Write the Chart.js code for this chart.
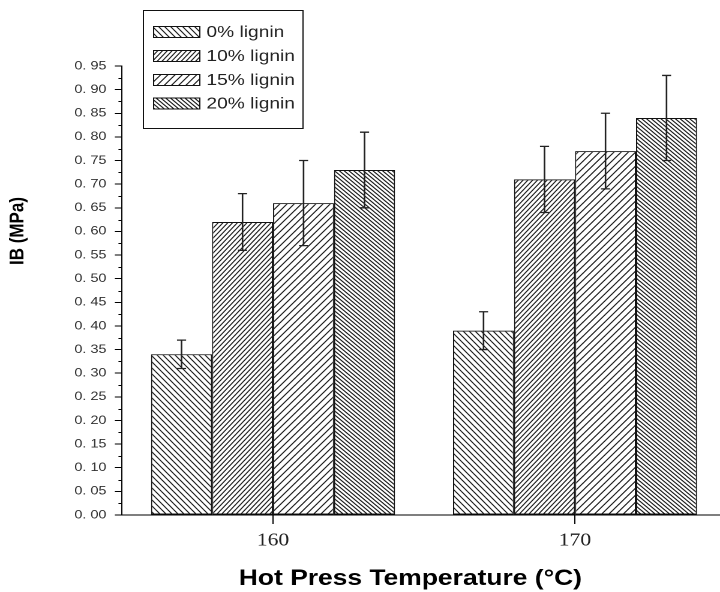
<!DOCTYPE html>
<html><head><meta charset="utf-8">
<script src="https://cdn.jsdelivr.net/npm/chart.js@4.4.1/dist/chart.umd.min.js"></script>
<style>
html,body{margin:0;padding:0;background:#fff;overflow:hidden;width:720px;height:592px}
#wrap{width:606px;height:592px;transform:scale(1.2,1);transform-origin:0 0}
</style></head><body>
<div id="wrap"><canvas id="c" width="606" height="592"></canvas></div>
<script>
const categories = ["160", "170"];
const seriesNames = ["0% lignin", "10% lignin", "15% lignin", "20% lignin"];
const ib0  = [0.34, 0.39];
const ib10 = [0.62, 0.71];
const ib15 = [0.66, 0.77];
const ib20 = [0.73, 0.84];
const errLow0  = [0.31, 0.35], errHigh0  = [0.37, 0.43];
const errLow10 = [0.56, 0.64], errHigh10 = [0.68, 0.78];
const errLow15 = [0.57, 0.69], errHigh15 = [0.75, 0.85];
const errLow20 = [0.65, 0.75], errHigh20 = [0.81, 0.93];
const yTickValues = [0,0.05,0.10,0.15,0.20,0.25,0.30,0.35,0.40,0.45,0.50,0.55,0.60,0.65,0.70,0.75,0.80,0.85,0.90,0.95];
const yTickLabels = ["0. 00","0. 05","0. 10","0. 15","0. 20","0. 25","0. 30","0. 35","0. 40","0. 45","0. 50","0. 55","0. 60","0. 65","0. 70","0. 75","0. 80","0. 85","0. 90","0. 95"];
const xTitle = "Hot Press Temperature (°C)";
const yTitle = "IB (MPa)";

function hatch(w, h, dir) {
  const s = 2;
  const c = document.createElement('canvas');
  c.width = w * s; c.height = h * s;
  const g = c.getContext('2d');
  g.fillStyle = '#fff'; g.fillRect(0, 0, c.width, c.height);
  g.strokeStyle = '#1a1a1a'; g.lineWidth = 2;
  for (let k = -1; k <= 1; k++) {
    g.beginPath();
    if (dir === 'back') { g.moveTo((k - 1) * w * s, -h * s); g.lineTo((k + 2) * w * s, 2 * h * s); }
    else { g.moveTo((k - 1) * w * s, 2 * h * s); g.lineTo((k + 2) * w * s, -h * s); }
    g.stroke();
  }
  const p = g.createPattern(c, 'repeat');
  p.setTransform(new DOMMatrix().scale(1 / s));
  return p;
}
const patterns = [hatch(5, 6, 'back'), hatch(4, 5, 'fwd'), hatch(6, 7, 'fwd'), hatch(4, 4, 'back')];
const values = [ib0, ib10, ib15, ib20];
const lows = [errLow0, errLow10, errLow15, errLow20];
const highs = [errHigh0, errHigh10, errHigh15, errHigh20];

const datasets = seriesNames.map((n, i) => ({
  label: n, data: values[i], backgroundColor: patterns[i],
  borderColor: '#111', borderWidth: 1, borderSkipped: false,
  categoryPercentage: 0.808, barPercentage: 1.0
}));

const deco = {
  id: 'deco',
  beforeDraw(chart) {
    const ctx = chart.ctx; ctx.save(); ctx.fillStyle = '#fff';
    ctx.fillRect(0, 0, chart.width, chart.height); ctx.restore();
  },
  afterDatasetsDraw(chart) {
    const ctx = chart.ctx, y = chart.scales.y;
    ctx.save();
    ctx.strokeStyle = '#222'; ctx.lineWidth = 1.3;
    chart.data.datasets.forEach((ds, i) => {
      const meta = chart.getDatasetMeta(i);
      meta.data.forEach((bar, j) => {
        const yl = y.getPixelForValue(lows[i][j]), yh = y.getPixelForValue(highs[i][j]);
        ctx.beginPath();
        ctx.moveTo(bar.x, yl); ctx.lineTo(bar.x, yh);
        ctx.moveTo(bar.x - 3.8, yl); ctx.lineTo(bar.x + 3.8, yl);
        ctx.moveTo(bar.x - 3.8, yh); ctx.lineTo(bar.x + 3.8, yh);
        ctx.stroke();
      });
    });
    // minor ticks on y axis
    ctx.strokeStyle = '#000'; ctx.lineWidth = 1;
    const x0 = chart.chartArea.left;
    for (let k = 0; k < yTickValues.length - 1; k++) {
      const v = (yTickValues[k] + yTickValues[k + 1]) / 2;
      const py = Math.round(y.getPixelForValue(v)) + 0.5;
      ctx.beginPath(); ctx.moveTo(x0 - 3, py); ctx.lineTo(x0, py); ctx.stroke();
    }
    // legend
    const bx = 119, by = 10, bw = 133, bh = 118;
    ctx.fillStyle = '#fff'; ctx.fillRect(bx, by, bw, bh);
    ctx.strokeStyle = '#111'; ctx.lineWidth = 1;
    ctx.strokeRect(bx + 0.5, by + 0.5, bw, bh);
    const rows = [32, 56, 80, 103.5];
    ctx.font = '16px "Liberation Sans", Arial, sans-serif';
    ctx.textBaseline = 'middle'; ctx.textAlign = 'left';
    seriesNames.forEach((n, i) => {
      ctx.fillStyle = patterns[i];
      ctx.fillRect(128, rows[i] - 5.5, 38.5, 11);
      ctx.strokeStyle = '#111';
      ctx.strokeRect(128, rows[i] - 5.5, 38.5, 11);
      ctx.fillStyle = '#222';
      ctx.fillText(n, 172, rows[i] + 0.5);
    });
    // titles
    ctx.fillStyle = '#000';
    ctx.font = 'bold 22px "Liberation Sans", Arial, sans-serif';
    ctx.textAlign = 'center';
    ctx.fillText(xTitle, 342, 579);
    ctx.save();
    ctx.translate(15, 231); ctx.rotate(-Math.PI / 2);
    ctx.font = 'bold 17px "Liberation Sans", Arial, sans-serif';
    ctx.fillText(yTitle, 0, 0);
    ctx.restore();
    ctx.restore();
  }
};

new Chart(document.getElementById('c'), {
  type: 'bar',
  data: { labels: categories, datasets },
  options: {
    responsive: false, animation: false, devicePixelRatio: 2,
    layout: { padding: { left: 0, right: 1, top: 66, bottom: 0 } },
    plugins: { legend: { display: false }, tooltip: { enabled: false } },
    scales: {
      x: {
        grid: { offset: false, drawOnChartArea: false, drawTicks: true, tickLength: 9, color: '#000' },
        border: { display: true, color: '#000', width: 1 },
        ticks: { padding: 6, color: '#222', font: { family: '"Liberation Serif", "Times New Roman", serif', size: 18 } },
        afterFit(s) { s.height = 77; }
      },
      y: {
        min: 0, max: 0.95,
        afterBuildTicks(s) { s.ticks = yTickValues.map(v => ({ value: v })); },
        grid: { drawOnChartArea: false, drawTicks: true, tickLength: 6, color: '#000' },
        border: { display: true, color: '#000', width: 1 },
        ticks: { autoSkip: false, padding: 7, color: '#333',
          font: { family: '"Liberation Sans", Arial, sans-serif', size: 12 },
          callback: (v, i) => yTickLabels[i] },
        afterFit(s) { s.width = 101.7; }
      }
    }
  },
  plugins: [deco]
});
</script>
</body></html>
